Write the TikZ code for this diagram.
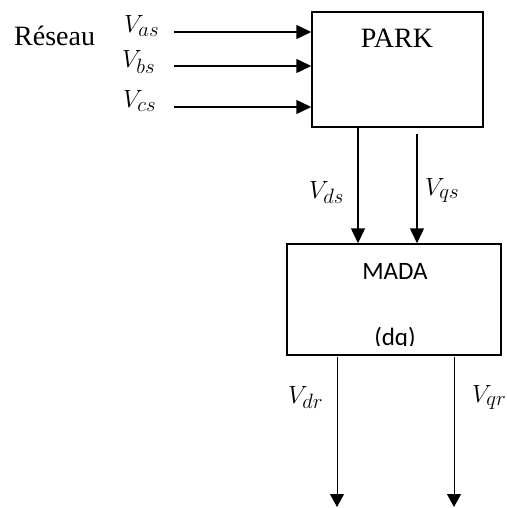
\documentclass[tikz,border=0pt]{standalone}
\usepackage{fontspec}
\setmainfont{Liberation Serif}
\newfontfamily\calib{Carlito}
\DeclareMathSizes{28}{28}{22}{17}
\usetikzlibrary{arrows.meta}
\begin{document}
\begin{tikzpicture}[x=1pt,y=-1pt,
  thick line/.style={line width=1.5pt,-{Triangle[length=15pt,width=14pt]}},
  thin line/.style={line width=1pt,-{Triangle[length=13pt,width=14pt]}},
  boxstyle/.style={draw,line width=1.5pt,inner sep=0pt},
  mlabel/.style={font=\fontsize{28}{32}\selectfont,inner sep=0pt,anchor=base west},
  serif text/.style={font=\fontsize{28}{32}\selectfont,inner sep=0pt},
  sans text/.style={font=\calib\fontsize{25}{28}\selectfont,inner sep=0pt,anchor=base}]
\useasboundingbox (0,0) rectangle (506,508);
\node[boxstyle,minimum width=171pt,minimum height=115pt] (park) at (397.5,69.5) {};
\node[serif text,anchor=base] (parkt) at (397,48) {PARK};
\node[boxstyle,minimum width=214pt,minimum height=111pt] (mada) at (394,299.5) {};
\node[sans text] (madat) at (395,279) {MADA};
\begin{scope}
\clip (300,300) rectangle (490,345.5);
\node[sans text] (dqt) at (395,345) {(dq)};
\end{scope}
\node[serif text,anchor=base west] (res) at (14,46) {Réseau};
\node[mlabel] (vas) at (124,33) {$V_{as}$};
\node[mlabel] (vbs) at (122,68) {$V_{bs}$};
\node[mlabel] (vcs) at (123,108) {$V_{cs}$};
\coordinate (a0) at (174,32);
\coordinate (b0) at (174,66);
\coordinate (c0) at (174,107);
\draw[thick line] (a0) -- (a0 -| park.west);
\draw[thick line] (b0) -- (b0 -| park.west);
\draw[thick line] (c0) -- (c0 -| park.west);
\coordinate (ds0) at (358,127);
\coordinate (qs0) at (417,134);
\draw[thick line] (ds0) -- (ds0 |- mada.north);
\draw[thick line] (qs0) -- (qs0 |- mada.north);
\node[mlabel] (vds) at (309,198) {$V_{ds}$};
\node[mlabel] (vqs) at (425,195) {$V_{qs}$};
\coordinate (dr0) at (337,357);
\coordinate (qr0) at (454,357);
\coordinate (dr1) at (337,507);
\coordinate (qr1) at (454,507);
\draw[thin line] (dr0) -- (dr1);
\draw[thin line] (qr0) -- (qr1);
\node[mlabel] (vdr) at (288,403) {$V_{dr}$};
\node[mlabel] (vqr) at (472,402) {$V_{qr}$};
\end{tikzpicture}
\end{document}
